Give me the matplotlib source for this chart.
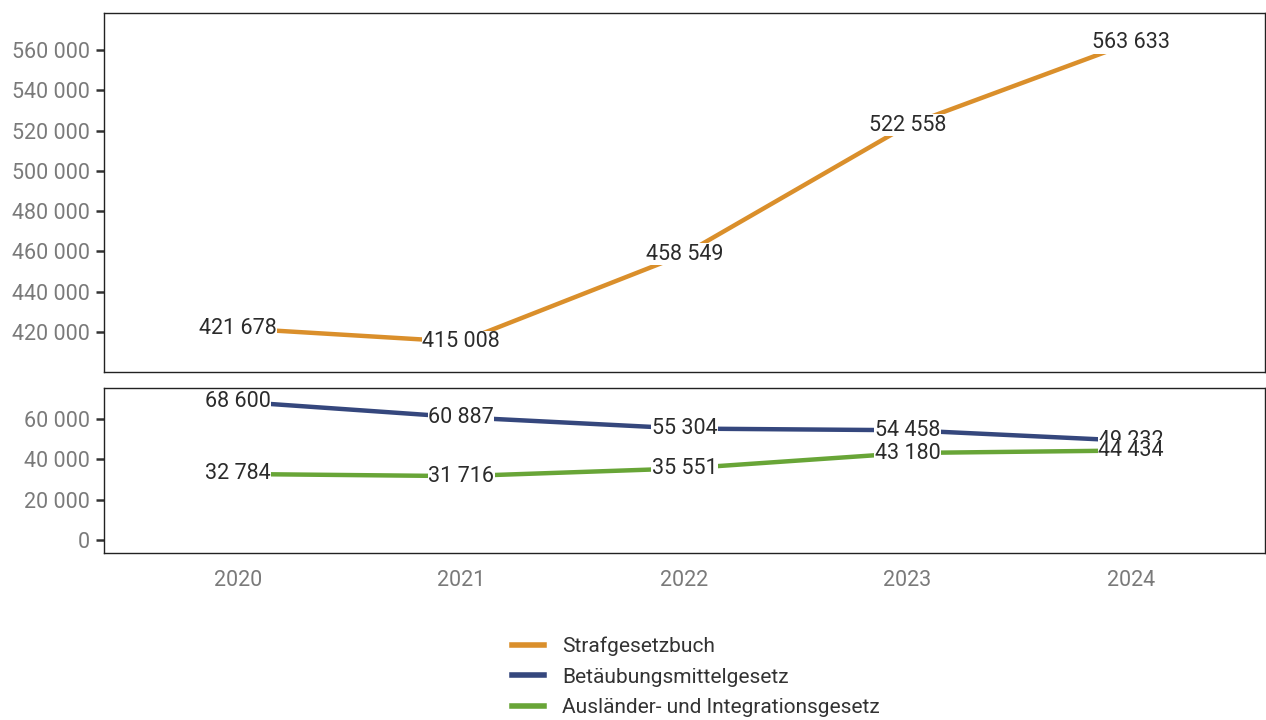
import matplotlib
matplotlib.use("Agg")
import matplotlib.pyplot as plt
from matplotlib.lines import Line2D

plt.rcParams['font.family'] = ['Roboto', 'DejaVu Sans']

# Daten
years = [2020, 2021, 2022, 2023, 2024]
stgb = [421678, 415008, 458549, 522558, 563633]
btmg = [68600, 60887, 55304, 54458, 49232]
aig = [32784, 31716, 35551, 43180, 44434]

series_names = ["Strafgesetzbuch", "Betäubungsmittelgesetz", "Ausländer- und Integrationsgesetz"]
colors = ["#DA8F2B", "#35477D", "#68A537"]

upper_ticks = [420000, 440000, 460000, 480000, 500000, 520000, 540000, 560000]
lower_ticks = [0, 20000, 40000, 60000]


def fmt(v):
    return f"{v:,}".replace(",", " ")


def draw(ax, ys, color):
    ax.plot(years, ys, color=color, lw=3.2, solid_capstyle='butt', zorder=2)
    for x, y in zip(years, ys):
        ax.text(x, y, fmt(y), ha='center', va='center', fontsize=15.5, color='#2b2b2b',
                zorder=3, bbox=dict(facecolor='white', edgecolor='none', pad=0.3))


def style(ax, ticks):
    ax.set_yticks(ticks)
    ax.set_yticklabels([fmt(t) for t in ticks])
    ax.tick_params(axis='y', length=6, width=1.8, color='#333333', labelcolor='#7a7a7a',
                   labelsize=15.5, pad=4)
    ax.tick_params(axis='x', length=0, labelcolor='#7a7a7a', labelsize=15.5, pad=12)
    for s in ax.spines.values():
        s.set_color('#222222')
        s.set_linewidth(1.0)
    ax.set_xlim(2019.4, 2024.6)


fig = plt.figure(figsize=(12.66, 7.2), dpi=100)
ax1 = fig.add_axes([0.0821, 0.4833, 0.9169, 0.4987])
ax2 = fig.add_axes([0.0821, 0.2319, 0.9169, 0.2292])

draw(ax1, stgb, colors[0])
draw(ax2, btmg, colors[1])
draw(ax2, aig, colors[2])

ax1.set_ylim(400000, 578400)
ax2.set_ylim(-6400, 75400)
style(ax1, upper_ticks)
style(ax2, lower_ticks)
ax1.set_xticks([])
ax2.set_xticks(years)
ax2.set_xticklabels([str(y) for y in years])

handles = [Line2D([0], [0], color=c, lw=4) for c in colors]
leg = fig.legend(handles, series_names, loc='center left', bbox_to_anchor=(0.39, 0.0597),
                 frameon=False, fontsize=15, handlelength=1.5, handletextpad=0.9,
                 labelspacing=0.55)
for t in leg.get_texts():
    t.set_color('#333333')

fig.savefig("out.png", dpi=100)
